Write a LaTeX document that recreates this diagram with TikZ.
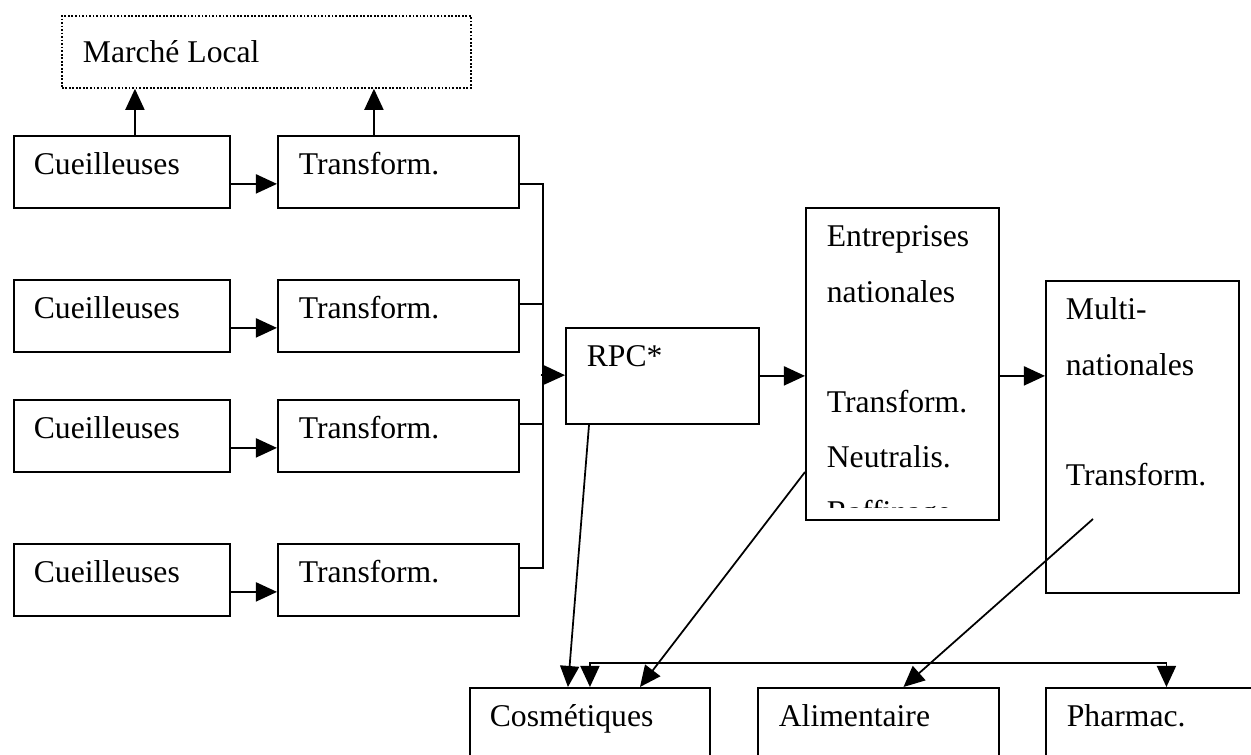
\documentclass[tikz,border=0pt]{standalone}
\usepackage{fontspec}
\setmainfont{Liberation Serif}
\usetikzlibrary{arrows.meta}

\begin{document}
\begin{tikzpicture}
  [x=0.01cm,y=-0.01cm,line width=0.5pt,
   tri/.tip={Triangle[length=0.21cm,width=0.19cm]},
   box/.style={draw,anchor=north west,inner sep=0pt,minimum height=0.72cm},
   lbl/.style={anchor=base west,inner sep=0pt,font=\fontsize{9pt}{15.65pt}\selectfont},
   arr/.style={-tri}]
  \useasboundingbox (0,0) rectangle (1251,755);
  \clip (0,0) rectangle (1251,755);

  \node[box,dash pattern=on 0.5pt off 0.5pt,minimum width=4.09cm] (ml) at (61,15) {};
  \node[lbl] (mlt) at ([shift={(21,48)}]ml.north west) {Marché Local};

  \foreach \i/\y in {1/135,2/279,3/399,4/543} {
    \node[box,minimum width=2.16cm] (c\i) at (13,\y) {};
    \node[lbl] (cl\i) at ([shift={(20,40)}]c\i.north west) {Cueilleuses};
    \node[box,minimum width=2.41cm] (t\i) at (277,\y) {};
    \node[lbl] (tl\i) at ([shift={(21,40)}]t\i.north west) {Transform.};
    \draw[arr] ([yshift=-0.12cm]c\i.east) -- ([yshift=-0.12cm]t\i.east -| t\i.west);
  }

  \draw[arr] ([xshift=0.13cm]c1.north) -- ([xshift=0.13cm]c1.north |- ml.south);
  \draw[arr] ([xshift=-0.245cm]t1.north) -- ([xshift=-0.245cm]t1.north |- ml.south);

  % collecting line
  \draw ([yshift=-0.12cm]t1.east) -- ++(23,0) |- ([yshift=0.12cm]t4.east);
  \foreach \i in {2,3}
    \draw ([yshift=0.12cm]t\i.east) -- ++(23,0);
  \coordinate (bus) at (541,375);

  \node[box,minimum width=1.93cm,minimum height=0.96cm] (rpc) at (565,327) {};
  \node[lbl] (rpcl) at ([shift={(21,40)}]rpc.north west) {RPC*};
  \node[box,minimum width=1.93cm,minimum height=3.12cm] (ent) at (805,207) {};
  \begin{scope}
    \clip (ent.north west) rectangle ([yshift=0.13cm]ent.south east);
    \node[lbl] (entl) at ([shift={(21,40)}]ent.north west)
      {\parbox[t]{1.7cm}{\raggedright Entreprises\\nationales\\~\\Transform.\\Neutralis.\\Raffinage}};
  \end{scope}
  \node[box,minimum width=1.93cm,minimum height=3.12cm] (mn) at (1045,280) {};
  \node[lbl] (mnl) at ([shift={(20,40)}]mn.north west)
    {\parbox[t]{1.7cm}{\raggedright Multi-\\nationales\\~\\Transform.}};

  \draw[arr] (bus) -- (rpc);
  \draw[arr] (rpc.east) -- (rpc.east -| ent.west);
  \draw[arr] (rpc.east -| ent.east) -- (rpc.east -| mn.west);

  \node[box,minimum width=2.40cm] (cos) at (469,687) {};
  \node[lbl] (cosl) at ([shift={(20,40)}]cos.north west) {Cosmétiques};
  \node[box,minimum width=2.41cm] (ali) at (757,687) {};
  \node[lbl] (alil) at ([shift={(21,40)}]ali.north west) {Alimentaire};
  \node[box,minimum width=2.41cm] (pha) at (1045,687) {};
  \node[lbl] (phal) at ([shift={(21,40)}]pha.north west) {Pharmac.};

  \draw[tri-tri] (cos.north) -- ++(0,-24) -| (pha.north);
  \draw[arr] ([xshift=0.24cm]rpc.south west) -- ([xshift=-0.22cm]cos.north);
  \draw[arr] ([yshift=-1.08cm]ent.west) -- ([xshift=0.50cm]cos.north);
  \draw[arr] ([shift={(48,239)}]mn.north west) -- ([xshift=0.25cm]ali.north);

\end{tikzpicture}
\end{document}
